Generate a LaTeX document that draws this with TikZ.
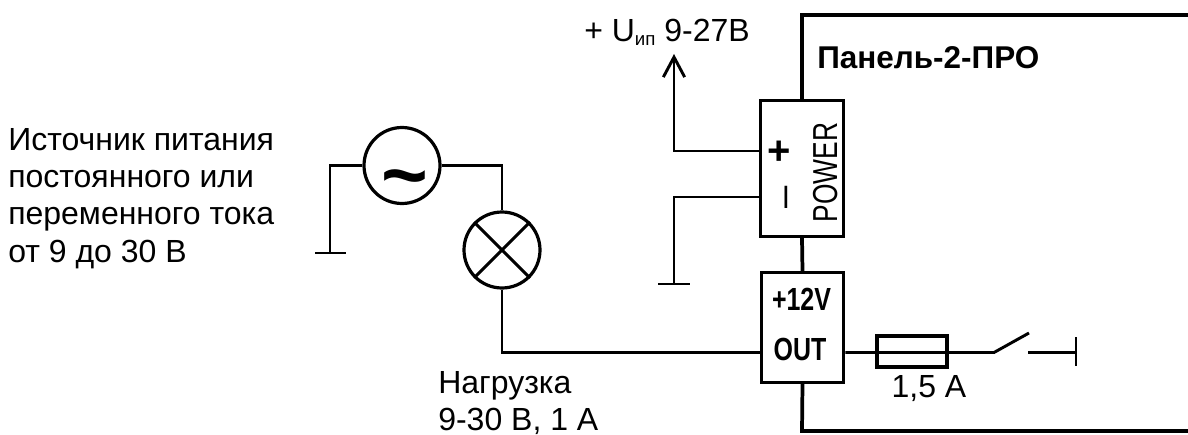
\documentclass[tikz,border=0pt]{standalone}
\usepackage{fontspec}
\usepackage{graphicx}
\setmainfont{Liberation Sans}
\usetikzlibrary{arrows.meta}
\begin{document}
\begin{tikzpicture}[x=0.75pt,y=-0.75pt,
  wire/.style={line width=2.2pt,line join=miter,line cap=butt},
  thick wire/.style={line width=2.8pt},
  elem/.style={draw,line width=2.4pt,inner sep=0pt,fill=white},
  round elem/.style={elem,circle,minimum size=57pt},
  box elem/.style={elem,rectangle,minimum width=62pt},
  lbl/.style={font=\fontsize{24pt}{28pt}\selectfont,inner sep=0pt,align=left},
  cond/.style={font=\bfseries\fontsize{24pt}{24pt}\selectfont,inner sep=0pt}]
\useasboundingbox (0,0) rectangle (1188,435);
% panel outline
\coordinate (ptop) at (802,15);
\coordinate (ptopr) at (1188,15);
\coordinate (pbot) at (802,431);
\coordinate (pbotr) at (1188,431);
% elements
\node[box elem,minimum height=102pt] (power) at (802,168.5) {};
\node[box elem,minimum height=82pt] (out) at (802.5,327.5) {};
\node[round elem] (src) at (402,165.5) {};
\node[round elem] (lamp) at (502,250) {};
\draw[thick wire] (ptopr) -- (ptop) -- (power.north);
\draw[thick wire] (pbotr) -- (pbot) -- (out.south);
\draw[thick wire] (power.south) -- (out.north);
% lamp cross
\draw[wire] (lamp.north west) -- (lamp.south east);
\draw[wire] (lamp.north east) -- (lamp.south west);
% source
\coordinate (g1) at (330,253);
\coordinate (g1l) at (315,253);
\coordinate (g1r) at (346,253);
\draw[wire] (src.west) -| (g1);
\draw[wire] (g1l) -- (g1r);
\draw[wire] (src.east) -| (lamp.north);
\node[font=\bfseries\fontsize{60pt}{60pt}\selectfont,inner sep=0pt] (tilde) at (404.5,186) {\char"007E};
% load to OUT
\coordinate (loadc) at (502,352.5);
\draw[wire] (lamp.south) -- (loadc) -- (loadc -| out.west);
% power wires
\coordinate (pp) at (674,151);
\coordinate (pu) at (674,54);
\draw[wire,-{Straight Barb[length=15pt,width=16pt,line width=2.2pt]}] (pp -| power.west) -- (pp) -- (pu);
\coordinate (pm) at (674,197);
\coordinate (g2) at (674,284);
\coordinate (g2l) at (658,284);
\coordinate (g2r) at (690,284);
\draw[wire] (pm -| power.west) -- (pm) -- (g2);
\draw[wire] (g2l) -- (g2r);
% fuse and switch
\node[elem,line width=2.8pt,minimum width=52.5pt,minimum height=23pt,fill=none] (fuse) at (912,351.5) {};
\coordinate (swa) at (994,352.5);
\coordinate (swb) at (1029,333);
\coordinate (swc) at (1028,352.5);
\coordinate (swd) at (1076,352.5);
\coordinate (swe) at (1076,337);
\coordinate (swf) at (1076,366);
\draw[wire] (swa -| out.east) -- (swa) -- (swb);
\draw[wire] (swc) -- (swd);
\draw[wire] (swe) -- (swf);
% labels
\node[lbl,anchor=north west] (src label) at (8,128) {Источник питания\\постоянного или\\переменного тока\\от 9 до 30 В};
\node[lbl,anchor=north west] (load label) at (438,371) {Нагрузка\\9-30 В, 1 А};
\node[lbl,anchor=base west] (uip) at (584,42) {+ U\raisebox{-2.5pt}{\fontsize{14pt}{14pt}\selectfont ип} 9-27В};
\node[lbl,anchor=base west,font=\bfseries\fontsize{23.6pt}{28pt}\selectfont] (panel) at (817,69) {Панель-2-ПРО};
\node[font=\bfseries\fontsize{30pt}{30pt}\selectfont,inner sep=0pt] (plus) at (779,153) {+};
\node[font=\fontsize{30pt}{30pt}\selectfont,inner sep=0pt,rotate=90] (minus) at (791,197) {–};
\node[font=\fontsize{26pt}{26pt}\selectfont,inner sep=0pt,rotate=90] (pw) at (825.5,172.5) {\scalebox{0.76}[1]{POWER}};
\node[cond] (v12) at (801.5,299) {\scalebox{0.78}[1]{+12V}};
\node[cond] (outl) at (800,349) {\scalebox{0.78}[1]{OUT}};
\node[lbl,anchor=base] (fuse label) at (929,397) {1,5 А};
\end{tikzpicture}
\end{document}
